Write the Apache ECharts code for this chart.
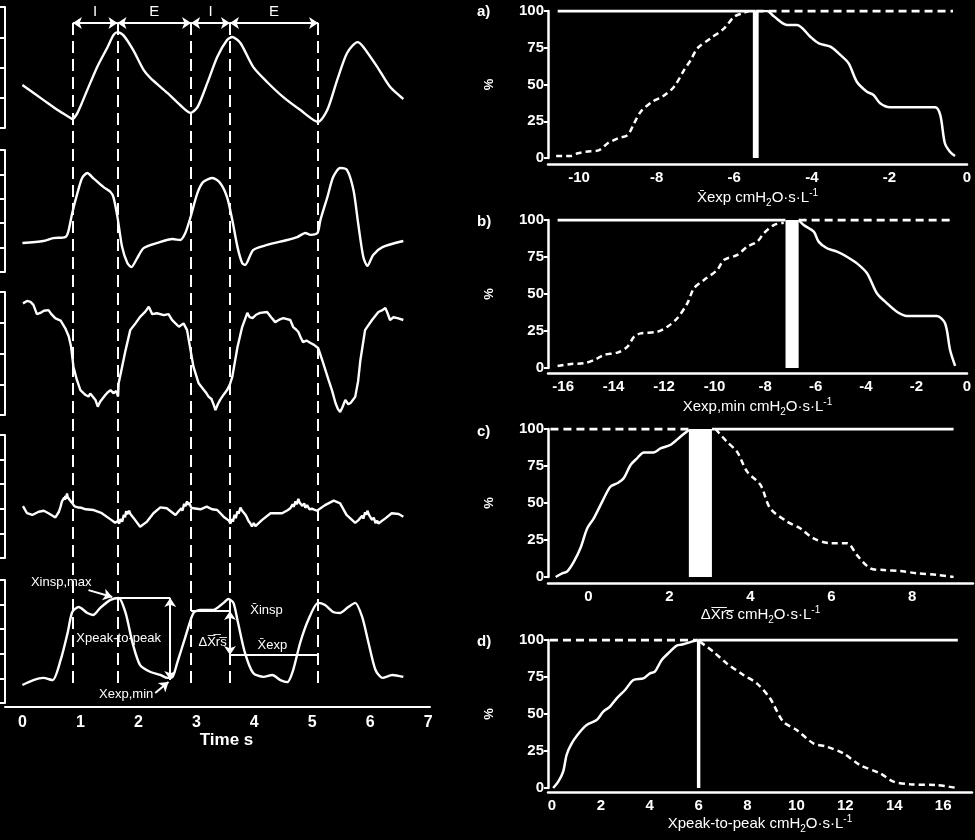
<!DOCTYPE html>
<html><head><meta charset="utf-8">
<script src="https://cdn.jsdelivr.net/npm/echarts@6/dist/echarts.min.js"></script>
<style>html,body{margin:0;padding:0;background:#000}#c{width:975px;height:840px}</style>
</head><body><div id="c"></div>
<script>
// ---------- LEFT: time traces ----------
const timeTicks = [0,1,2,3,4,5,6,7];
const phaseBounds = [0.87, 1.64, 2.91, 3.58, 5.10];
const phaseNames = ['I','E','I','E'];
const sig1 = [[0.00,1.42],[0.36,0.93],[0.60,0.60],[0.83,0.33],[0.86,0.30],[0.95,0.50],[1.12,1.26],[1.29,2.02],[1.47,2.68],[1.57,3.07],[1.64,3.17],[1.74,3.07],[1.91,2.58],[2.09,1.92],[2.21,1.65],[2.50,1.16],[2.72,0.76],[2.90,0.50],[3.02,0.69],[3.19,1.49],[3.36,2.35],[3.53,2.91],[3.62,3.01],[3.76,2.81],[3.98,2.02],[4.22,1.52],[4.50,1.02],[4.79,0.60],[5.10,0.20],[5.26,0.60],[5.43,1.59],[5.60,2.48],[5.78,2.84],[5.88,2.68],[6.12,2.02],[6.34,1.36],[6.57,0.96]];
const sig2 = [[0.00,1.19],[0.36,1.27],[0.53,1.39],[0.74,1.43],[0.79,1.64],[0.86,2.42],[0.95,3.24],[1.03,3.85],[1.12,4.06],[1.22,3.85],[1.40,3.48],[1.52,3.28],[1.57,3.07],[1.64,2.25],[1.72,1.02],[1.81,0.37],[1.88,0.20],[1.98,0.57],[2.09,0.98],[2.33,1.19],[2.59,1.35],[2.72,1.31],[2.81,1.60],[2.90,2.25],[3.02,3.24],[3.12,3.69],[3.28,3.85],[3.41,3.65],[3.53,3.07],[3.62,2.13],[3.71,1.02],[3.79,0.37],[3.84,0.29],[3.98,0.90],[4.22,1.11],[4.57,1.31],[4.74,1.43],[4.88,1.60],[4.97,1.52],[5.09,1.60],[5.14,2.13],[5.26,3.07],[5.36,3.89],[5.48,4.26],[5.60,4.18],[5.71,3.36],[5.79,2.01],[5.88,0.61],[5.95,0.25],[6.05,0.70],[6.21,1.02],[6.57,1.27]];
const sig3 = [[0.01,3.63],[0.08,3.71],[0.14,3.68],[0.19,3.58],[0.25,3.28],[0.31,3.32],[0.37,3.39],[0.45,3.41],[0.50,3.28],[0.57,3.14],[0.66,3.07],[0.74,2.82],[0.80,2.55],[0.84,2.22],[0.88,1.57],[0.94,1.14],[1.00,0.81],[1.05,0.72],[1.09,0.65],[1.14,0.60],[1.17,0.70],[1.20,0.65],[1.26,0.49],[1.30,0.27],[1.34,0.43],[1.39,0.55],[1.43,0.65],[1.48,0.75],[1.52,0.81],[1.57,0.71],[1.62,0.78],[1.65,0.60],[1.66,1.03],[1.72,1.57],[1.78,2.11],[1.86,2.76],[1.95,2.98],[2.03,3.19],[2.12,3.36],[2.18,3.52],[2.24,3.28],[2.32,3.31],[2.44,3.25],[2.52,3.28],[2.58,3.09],[2.64,2.98],[2.70,2.87],[2.78,2.98],[2.84,2.76],[2.90,2.11],[2.95,1.57],[3.04,1.03],[3.13,0.81],[3.17,0.72],[3.21,0.60],[3.26,0.52],[3.30,0.33],[3.33,0.16],[3.37,0.35],[3.41,0.49],[3.47,0.66],[3.53,0.81],[3.58,1.00],[3.62,1.24],[3.71,2.21],[3.79,2.86],[3.88,3.32],[3.92,3.18],[3.97,3.15],[4.03,3.26],[4.10,3.32],[4.22,3.35],[4.29,3.18],[4.36,3.02],[4.43,3.10],[4.50,3.15],[4.62,3.09],[4.67,2.86],[4.72,2.78],[4.76,2.70],[4.80,2.52],[4.84,2.37],[4.90,2.42],[4.97,2.34],[5.03,2.28],[5.10,2.18],[5.17,1.79],[5.28,1.14],[5.34,0.80],[5.40,0.39],[5.44,0.20],[5.48,0.10],[5.52,0.25],[5.57,0.49],[5.62,0.35],[5.66,0.39],[5.74,0.59],[5.79,1.10],[5.83,1.79],[5.91,2.76],[5.96,2.90],[6.03,3.09],[6.14,3.35],[6.20,3.40],[6.26,3.48],[6.30,3.30],[6.34,3.09],[6.40,3.18],[6.47,3.15],[6.57,3.09]];
const sig4 = [[0.01,2.11],[0.08,1.82],[0.17,1.75],[0.28,1.88],[0.37,1.92],[0.45,1.82],[0.57,1.65],[0.63,1.88],[0.66,2.10],[0.68,2.29],[0.70,2.22],[0.72,2.45],[0.73,2.36],[0.74,2.52],[0.75,2.40],[0.77,2.62],[0.78,2.48],[0.80,2.56],[0.81,2.38],[0.83,2.42],[0.85,2.26],[0.88,2.20],[0.90,2.10],[0.93,2.16],[0.97,2.05],[1.02,2.04],[1.09,1.98],[1.23,1.95],[1.37,1.82],[1.52,1.57],[1.60,1.43],[1.64,1.50],[1.67,1.40],[1.69,1.58],[1.72,1.48],[1.75,1.76],[1.77,1.66],[1.79,1.90],[1.81,1.78],[1.84,1.92],[1.86,1.80],[1.89,1.78],[1.92,1.62],[2.03,1.27],[2.15,1.48],[2.26,1.82],[2.38,2.06],[2.49,2.02],[2.64,1.75],[2.68,1.86],[2.70,1.78],[2.74,2.02],[2.76,1.92],[2.79,2.20],[2.81,2.10],[2.84,2.30],[2.86,2.16],[2.88,2.25],[2.91,2.05],[2.95,2.02],[3.07,1.98],[3.18,2.09],[3.27,1.98],[3.36,1.95],[3.47,1.68],[3.56,1.52],[3.59,1.40],[3.61,1.58],[3.63,1.48],[3.66,1.76],[3.68,1.62],[3.71,1.90],[3.73,1.80],[3.76,2.05],[3.79,1.92],[3.82,1.95],[3.84,1.78],[3.87,1.66],[3.90,1.50],[3.93,1.41],[3.96,1.28],[3.99,1.42],[4.02,1.30],[4.13,1.54],[4.28,1.82],[4.48,1.82],[4.58,1.95],[4.62,2.02],[4.66,2.18],[4.68,2.08],[4.71,2.30],[4.73,2.18],[4.76,2.40],[4.78,2.25],[4.81,2.32],[4.83,2.12],[4.86,2.22],[4.88,2.04],[4.91,2.15],[4.95,1.98],[5.00,2.00],[5.08,1.92],[5.22,2.15],[5.37,2.33],[5.48,2.22],[5.59,1.75],[5.74,1.43],[5.80,1.55],[5.83,1.50],[5.86,1.72],[5.88,1.60],[5.91,1.86],[5.93,1.76],[5.95,1.92],[5.98,1.74],[6.00,1.78],[6.03,1.55],[6.06,1.64],[6.09,1.42],[6.12,1.52],[6.14,1.40],[6.26,1.61],[6.37,1.82],[6.49,1.79],[6.57,1.68]];
const sig5 = [[0.00,0.73],[0.19,0.93],[0.36,1.02],[0.52,0.93],[0.66,1.75],[0.78,2.85],[0.86,3.70],[0.97,3.90],[1.12,3.66],[1.22,3.58],[1.34,3.86],[1.52,4.19],[1.66,4.27],[1.78,3.66],[1.90,2.44],[2.03,1.54],[2.21,1.26],[2.38,1.14],[2.50,1.02],[2.59,1.06],[2.67,1.63],[2.81,2.68],[2.95,3.66],[3.07,3.78],[3.29,3.78],[3.47,4.07],[3.55,4.23],[3.64,4.07],[3.72,3.25],[3.84,2.03],[3.98,1.22],[4.16,1.06],[4.31,1.14],[4.45,0.93],[4.57,0.85],[4.67,1.34],[4.79,2.44],[4.93,3.37],[5.10,4.07],[5.22,3.98],[5.36,3.70],[5.48,3.66],[5.62,3.90],[5.74,4.07],[5.86,3.50],[5.97,2.44],[6.09,1.34],[6.21,1.02],[6.38,1.14],[6.57,1.06]];
const xinspMax = [1.64, 4.27];
const xexpMin = [2.55, 0.93];
const xinspMean = 3.74;
const xexpMean = 1.95;
const pointerInsp = [[1.14, 4.59],[1.55, 4.31]];
const pointerExp = [[2.29, 0.41],[2.52, 0.85]];
const annotNames = ['Xinsp,max','Xpeak-to-peak','Xexp,min','\u0394X\u0305r\u0305s\u0305','X\u0304insp','X\u0304exp'];
const annotAt = [[0.67,4.92],[1.66,2.64],[1.79,0.33],[3.28,2.48],[4.21,3.78],[4.31,2.36]];

// ---------- RIGHT: distributions ----------
const ticksA = [-10,-8,-6,-4,-2,0];
const dashA = [[-10.59,1.4],[-10.21,1.4],[-10.03,3.2],[-9.82,4.3],[-9.48,5.4],[-9.26,10],[-9.0,13.4],[-8.75,15.6],[-8.58,23.6],[-8.41,31.5],[-8.11,38.3],[-7.85,41.7],[-7.55,48.5],[-7.29,59.9],[-7.12,66.7],[-6.95,74.6],[-6.61,81.4],[-6.26,88.2],[-6.0,96.1],[-5.75,98.9],[-5.62,100]];
const solidA = [[-5.41,100],[-5.15,100],[-4.98,96.4],[-4.64,90.5],[-4.38,90.5],[-4.04,82.5],[-3.82,78],[-3.52,75.7],[-3.26,70],[-3.05,64.4],[-2.84,51.9],[-2.58,45.1],[-2.41,42.9],[-2.24,37.2],[-1.98,34.5],[-1.64,34.5],[-0.82,34.5],[-0.69,29.3],[-0.57,10],[-0.44,4.3],[-0.31,1.4]];
const topSolidA = [-10.55, -5.45];
const topDashA = [-5.45, -0.36];
const barA = [-5.52, -5.37];

const ticksB = [-16,-14,-12,-10,-8,-6,-4,-2,0];
const dashB = [[-16.22,1.4],[-15.69,2.7],[-15.17,3.2],[-14.77,5.4],[-14.38,8.8],[-13.85,10.4],[-13.45,14.4],[-13.19,21.2],[-12.93,23.4],[-12.27,24.5],[-11.87,27.9],[-11.48,33.6],[-11.08,43.7],[-10.82,53.8],[-10.42,59.5],[-9.9,66.2],[-9.63,73],[-9.1,76.4],[-8.71,82],[-8.31,85.4],[-8.05,91],[-7.65,96.6],[-7.26,98.2]];
const solidB = [[-6.67,100],[-6.47,96.6],[-6.07,92.1],[-5.88,85.4],[-5.55,80.9],[-5.15,78.6],[-4.76,75.2],[-4.36,70.7],[-3.96,64],[-3.57,50.5],[-3.17,43.7],[-2.78,38],[-2.38,35.1],[-1.2,35.1],[-0.87,30.2],[-0.67,12.2],[-0.47,1.4]];
const topSolidB = [-16.22, -7.19];
const topDashB = [-6.67, -0.55];
const barB = [-7.19, -6.67];

const ticksC = [0,2,4,6,8];
const solidC = [[-0.81,0],[-0.65,2.5],[-0.53,3.6],[-0.36,10.4],[-0.2,19.4],[-0.03,32.9],[0.13,39.6],[0.34,50.9],[0.54,61],[0.71,63.3],[0.87,66.7],[1.04,75.7],[1.2,80.2],[1.37,84.2],[1.61,84.2],[1.78,86.9],[2.02,89.2],[2.27,94.8],[2.48,99.3]];
const dashC = [[3.14,100],[3.42,91.4],[3.67,84.7],[3.92,71.2],[4.25,62.2],[4.49,46.4],[4.91,37.4],[5.23,32.9],[5.56,26.1],[5.98,22.8],[6.39,22.8],[6.63,14.9],[6.96,5.9],[7.29,4.7],[7.7,4.1],[8.11,2.5],[8.61,1.4],[9.02,0]];
const topDashC = [-0.94, 2.48];
const topSolidC = [3.05, 9.02];
const barC = [2.48, 3.05];

const ticksD = [0,2,4,6,8,10,12,14,16];
const solidD = [[0.05,0],[0.26,4.3],[0.46,11],[0.6,22.3],[0.81,30.2],[1.15,38],[1.42,42.6],[1.83,45.9],[2.1,51.6],[2.37,54.9],[2.65,60.6],[2.99,66.2],[3.33,73],[3.74,74.1],[4.01,77.5],[4.21,78.6],[4.49,86.5],[4.83,92.1],[5.1,96.2],[5.37,97.1],[5.72,98.9],[5.95,100]];
const dashD = [[6.05,98.9],[6.6,92.1],[7.15,84.2],[7.83,76.4],[8.38,70.7],[8.92,60.6],[9.46,44.8],[10.01,39.2],[10.69,30.2],[11.24,27.9],[11.92,23.4],[12.6,15.5],[13.42,9.9],[13.97,4.3],[14.65,2.5],[15.74,2],[16.56,0]];
const topDashD = [-0.08, 6.0];
const topSolidD = [6.0, 16.6];
const barD = [5.93, 6.07];

// ---------- build ----------
const W = '#ffffff';
const FONT = "'Liberation Sans Narrow','Liberation Sans',Arial,sans-serif";
const chart = echarts.init(document.getElementById('c'), null, {renderer: 'canvas'});

const grid = [], xAxis = [], yAxis = [], series = [];

const leftPanels = [
  {top: 7, height: 121, max: 4, data: sig1, smooth: 0.25},
  {top: 150, height: 122, max: 5, data: sig2, smooth: 0.25},
  {top: 292, height: 123, max: 4, data: sig3, smooth: 0},
  {top: 435, height: 123, max: 5, data: sig4, smooth: 0},
  {top: 580, height: 123, max: 5, data: sig5, smooth: 0.25}
];
const TMIN = -0.3, TMAX = 7.03;
leftPanels.forEach((p, i) => {
  grid.push({left: 5, width: 425, top: p.top, height: p.height});
  const isLast = i === leftPanels.length - 1;
  xAxis.push({
    gridIndex: i, type: 'value', min: TMIN, max: TMAX, show: isLast, offset: isLast ? 4 : 0,
    axisLine: {onZero: false, lineStyle: {color: W, width: 2}}, axisTick: {show: false}, splitLine: {show: false},
    axisLabel: {customValues: timeTicks, color: W, fontSize: 16, fontWeight: 'bold', fontFamily: FONT, margin: 8},
    name: isLast ? 'Time s' : '', nameLocation: 'middle', nameGap: 22,
    nameTextStyle: {color: W, fontSize: 17, fontWeight: 'bold', fontFamily: FONT, padding: [0, 0, 0, 18]}
  });
  yAxis.push({
    gridIndex: i, type: 'value', min: 0, max: p.max, interval: 1,
    axisLine: {show: true, onZero: false, lineStyle: {color: W, width: 2}},
    axisTick: {show: true, length: 5, lineStyle: {color: W, width: 2}},
    axisLabel: {show: false}, splitLine: {show: false}
  });
  series.push({
    type: 'line', xAxisIndex: i, yAxisIndex: i, data: p.data, showSymbol: false, symbol: 'none',
    smooth: p.smooth, lineStyle: {color: W, width: 2.4}, silent: true, z: 3
  });
});

// annotations on panel 5
const arrowPt = (c, s) => ({coord: c, symbol: s});
series[4].markLine = {
  silent: true, symbolSize: 9, animation: false,
  lineStyle: {color: W, width: 2, type: 'solid'}, label: {show: false},
  data: [
    [arrowPt([xinspMax[0], xinspMax[1]], 'none'), arrowPt([xexpMin[0], xinspMax[1]], 'none')],
    [arrowPt([xexpMin[0], xinspMax[1]], 'arrow'), arrowPt([xexpMin[0], xexpMin[1]], 'arrow')],
    [arrowPt([phaseBounds[2], xinspMean], 'none'), arrowPt([phaseBounds[3], xinspMean], 'none')],
    [arrowPt([phaseBounds[3], xinspMean], 'arrow'), arrowPt([phaseBounds[3], xexpMean], 'arrow')],
    [arrowPt([phaseBounds[3], xexpMean], 'none'), arrowPt([phaseBounds[4], xexpMean], 'none')],
    [arrowPt(pointerInsp[0], 'none'), arrowPt(pointerInsp[1], 'arrow')],
    [arrowPt(pointerExp[0], 'none'), arrowPt(pointerExp[1], 'arrow')]
  ]
};
series[4].markPoint = {
  silent: true, symbol: 'circle', symbolSize: 0, animation: false,
  label: {show: true, position: 'inside', formatter: '{b}', color: W, fontSize: 13, fontFamily: FONT},
  data: annotNames.map((n, k) => ({name: n, coord: annotAt[k]}))
};

// overlay grid for phase markers
grid.push({left: 5, width: 425, top: 23, height: 660});
xAxis.push({gridIndex: 5, type: 'value', min: TMIN, max: TMAX, show: false});
yAxis.push({gridIndex: 5, type: 'value', min: 0, max: 1, show: false});
series.push({
  type: 'line', xAxisIndex: 5, yAxisIndex: 5, data: [], silent: true,
  markLine: {
    silent: true, symbol: ['none', 'none'], animation: false,
    lineStyle: {color: W, width: 2, type: [12, 6]}, label: {show: false},
    data: phaseBounds.map(t => ({xAxis: t}))
  }
});
series.push({
  type: 'line', xAxisIndex: 5, yAxisIndex: 5, data: [], silent: true,
  markLine: {
    silent: true, symbol: ['arrow', 'arrow'], symbolSize: 9, animation: false,
    lineStyle: {color: W, width: 2, type: 'solid'},
    label: {show: true, position: 'insideMiddleTop', formatter: '{b}', color: W, fontSize: 15, fontFamily: "'Liberation Sans',Arial,sans-serif", distance: 4},
    data: phaseNames.map((n, k) => [{name: n, coord: [phaseBounds[k], 1]}, {name: n, coord: [phaseBounds[k + 1], 1]}])
  }
});

// right panels
const richName = {
  n: {color: W, fontSize: 15, fontFamily: FONT, lineHeight: 20},
  s: {color: W, fontSize: 10, fontFamily: FONT, lineHeight: 11, verticalAlign: 'bottom'},
  p: {color: W, fontSize: 10, fontFamily: FONT, lineHeight: 11, verticalAlign: 'top'}
};
const unit = ' cmH}{s|2}{n|O\u00b7s\u00b7L}{p|-1}';
const rightPanels = [
  {top: 11, height: 147, left: 548, right: 8, min: -10.8, max: 0, ticks: ticksA, off: 6, gap: 24,
   name: '{n|X\u0304exp' + unit, label: 'a)', labTop: 4,
   dash: dashA, solid: solidA, topSolid: topSolidA, topDash: topDashA, bar: barA},
  {top: 220, height: 148, left: 548, right: 8, min: -16.6, max: 0, ticks: ticksB, off: 5, gap: 24,
   name: '{n|Xexp,min' + unit, label: 'b)', labTop: 214,
   dash: dashB, solid: solidB, topSolid: topSolidB, topDash: topDashB, bar: barB},
  {top: 429, height: 148, left: 548, right: 2, min: -1, max: 9.5, ticks: ticksC, off: 6, gap: 22,
   name: '{n|\u0394X\u0305r\u0305s\u0305' + unit, label: 'c)', labTop: 424,
   dash: dashC, solid: solidC, topSolid: topSolidC, topDash: topDashC, bar: barC},
  {top: 640, height: 148, left: 548, right: 3, min: -0.16, max: 17.18, ticks: ticksD, off: 4, gap: 21,
   name: '{n|Xpeak-to-peak' + unit, label: 'd)', labTop: 634,
   dash: dashD, solid: solidD, topSolid: topSolidD, topDash: topDashD, bar: barD}
];
const titles = [];
rightPanels.forEach((p, k) => {
  const gi = 6 + k;
  grid.push({left: p.left, right: p.right, top: p.top, height: p.height});
  xAxis.push({
    gridIndex: gi, type: 'value', min: p.min, max: p.max, offset: p.off,
    axisLine: {onZero: false, lineStyle: {color: W, width: 2.5}}, axisTick: {show: false}, splitLine: {show: false},
    axisLabel: {customValues: p.ticks, color: W, fontSize: 15, fontWeight: 'bold', fontFamily: FONT, margin: 6},
    name: p.name, nameLocation: 'middle', nameGap: p.gap,
    nameTextStyle: {color: W, rich: richName}
  });
  yAxis.push({
    gridIndex: gi, type: 'value', min: 0, max: 100, interval: 25,
    axisLine: {show: true, onZero: false, lineStyle: {color: W, width: 2.5}},
    axisTick: {show: true, length: 4, lineStyle: {color: W, width: 2}},
    axisLabel: {color: W, fontSize: 15, fontWeight: 'bold', fontFamily: FONT, margin: 4},
    splitLine: {show: false},
    name: '%', nameLocation: 'middle', nameRotate: 90, nameGap: 52,
    nameTextStyle: {color: W, fontSize: 13, fontWeight: 'bold', fontFamily: FONT}
  });
  const base = {type: 'line', xAxisIndex: gi, yAxisIndex: gi, showSymbol: false, symbol: 'none', silent: true, smooth: 0.3};
  series.push(Object.assign({}, base, {data: p.dash, lineStyle: {color: W, width: 2.5, type: [6, 4]}}));
  series.push(Object.assign({}, base, {data: p.solid, lineStyle: {color: W, width: 2.5}}));
  series.push(Object.assign({}, base, {smooth: false, data: p.topSolid.map(x => [x, 100]), lineStyle: {color: W, width: 3}}));
  series.push(Object.assign({}, base, {smooth: false, data: p.topDash.map(x => [x, 100]), lineStyle: {color: W, width: 3, type: [8, 5]},
    markArea: {silent: true, itemStyle: {color: W, opacity: 1}, data: [[{xAxis: p.bar[0], yAxis: 0}, {xAxis: p.bar[1], yAxis: 100}]]}
  }));
  titles.push({text: p.label, left: 477, top: p.labTop, padding: 0,
    textStyle: {color: W, fontSize: 15, fontWeight: 'bold', fontFamily: FONT}});
});

chart.setOption({
  backgroundColor: '#000000',
  animation: false,
  title: titles,
  grid: grid, xAxis: xAxis, yAxis: yAxis, series: series
});
</script></body></html>
